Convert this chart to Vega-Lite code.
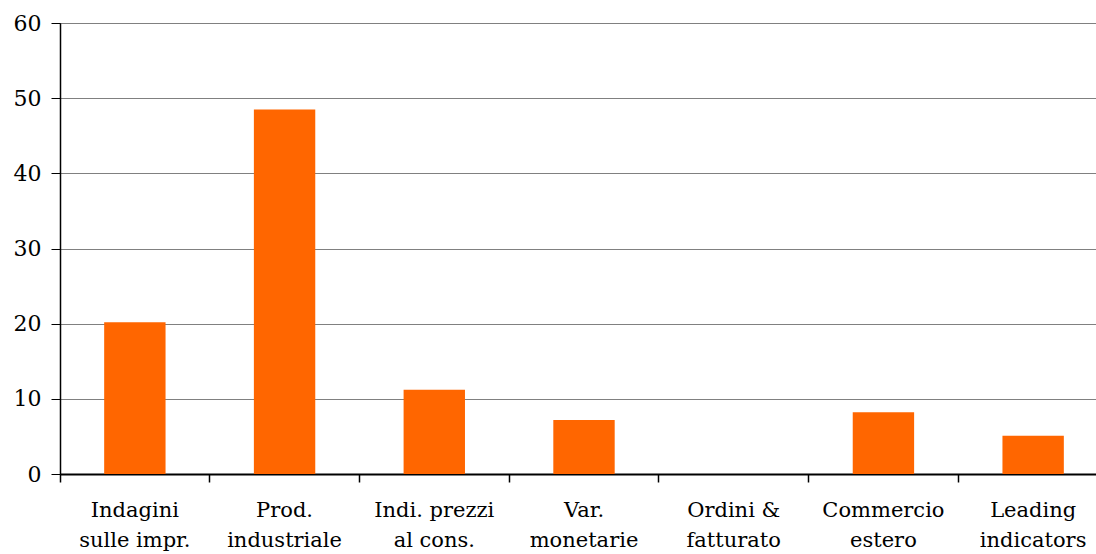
{
  "$schema": "https://vega.github.io/schema/vega-lite/v6.json",
  "width": 1048,
  "height": 451,
  "autosize": {"type": "none"},
  "padding": {"left": 60, "top": 23, "right": 0, "bottom": 80},
  "background": "white",
  "config": {
    "view": {"stroke": "black", "strokeWidth": 1},
    "font": "DejaVu Serif"
  },
  "data": {
    "values": [
      {"categoria": "Indagini|sulle impr.", "valore": 20.2},
      {"categoria": "Prod.|industriale", "valore": 48.5},
      {"categoria": "Indi. prezzi|al cons.", "valore": 11.2},
      {"categoria": "Var.|monetarie", "valore": 7.2},
      {"categoria": "Ordini &|fatturato", "valore": 0},
      {"categoria": "Commercio|estero", "valore": 8.2},
      {"categoria": "Leading|indicators", "valore": 5.1}
    ]
  },
  "mark": {"type": "bar", "color": "#FF6600", "width": {"band": 0.41}},
  "encoding": {
    "x": {
      "field": "categoria",
      "type": "nominal",
      "sort": null,
      "scale": {"paddingInner": 0, "paddingOuter": 0},
      "axis": {
        "title": null,
        "labelAngle": 0,
        "labelExpr": "split(datum.label, '|')",
        "labelFont": "DejaVu Serif",
        "labelFontSize": 21,
        "labelColor": "black",
        "labelLineHeight": 30,
        "labelPadding": 17,
        "bandPosition": 0,
        "ticks": true,
        "tickSize": 8,
        "tickColor": "black",
        "tickWidth": 1.5,
        "domainColor": "black",
        "domainWidth": 2,
        "grid": false
      }
    },
    "y": {
      "field": "valore",
      "type": "quantitative",
      "scale": {"domain": [0, 60], "nice": false},
      "axis": {
        "title": null,
        "values": [0, 10, 20, 30, 40, 50, 60],
        "labelFont": "DejaVu Serif",
        "labelFontSize": 22,
        "labelColor": "black",
        "labelPadding": 10,
        "tickSize": 9,
        "tickColor": "black",
        "domainColor": "black",
        "domainWidth": 1.5,
        "grid": true,
        "gridColor": "#808080",
        "gridWidth": 1
      }
    }
  }
}
